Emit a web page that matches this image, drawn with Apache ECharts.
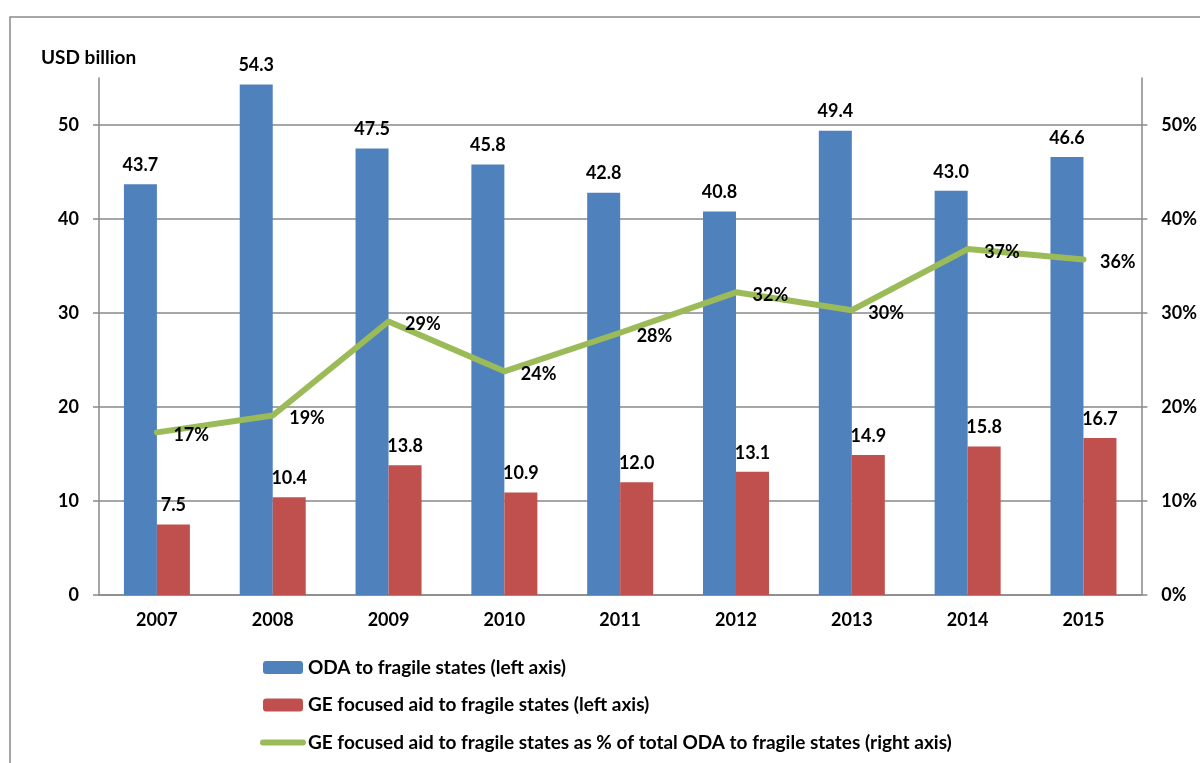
<!DOCTYPE html>
<html>
<head>
<meta charset="utf-8">
<script src="https://cdn.jsdelivr.net/npm/echarts@6/dist/echarts.min.js"></script>
<style>
html,body{margin:0;padding:0;background:#fff;}
#chart{width:1200px;height:763px;}
</style>
</head>
<body>
<div id="chart"></div>
<script>
const years = ['2007','2008','2009','2010','2011','2012','2013','2014','2015'];
const odaValues = [43.7, 54.3, 47.5, 45.8, 42.8, 40.8, 49.4, 43.0, 46.6];
const geValues = [7.5, 10.4, 13.8, 10.9, 12.0, 13.1, 14.9, 15.8, 16.7];
const sharePct = [17.3, 19.1, 29.1, 23.8, 27.9, 32.2, 30.3, 36.8, 35.7];
const leftTicks = [0, 10, 20, 30, 40, 50];
const rightTicks = [0, 10, 20, 30, 40, 50];
const seriesNames = [
  'ODA to fragile states (left axis)',
  'GE focused aid to fragile states (left axis)',
  'GE focused aid to fragile states as % of total ODA to fragile states (right axis)'
];

const FONT = 'Lato';
const AX = '#898989';
const GREEN = '#9BBB59';
const chart = echarts.init(document.getElementById('chart'));
const labelStyle = {fontFamily: FONT, fontWeight: 'bold', fontSize: 18, color: '#000'};

chart.setOption({
  backgroundColor: '#fff',
  animation: false,
  textStyle: {fontFamily: FONT},
  graphic: [{
    type: 'rect',
    shape: {x: 10, y: 17, width: 1400, height: 1000},
    style: {fill: 'none', stroke: AX, lineWidth: 1.5},
    silent: true,
    z: -1
  }],
  title: {
    text: 'USD billion',
    left: 36, top: 43,
    textStyle: {fontFamily: FONT, fontWeight: 'bold', fontSize: 19, color: '#000'}
  },
  legend: {
    orient: 'vertical',
    left: 260, top: 658,
    height: 110,
    padding: 0,
    itemWidth: 40, itemHeight: 13,
    itemGap: 18.5,
    textStyle: {fontFamily: FONT, fontWeight: 'bold', fontSize: 19, color: '#000'},
    data: [
      {name: seriesNames[0]},
      {name: seriesNames[1]},
      {name: seriesNames[2], itemStyle: {opacity: 0},
        lineStyle: {width: 6, color: GREEN, cap: 'round'}}
    ]
  },
  grid: {left: 99, right: 58, top: 78, bottom: 168, containLabel: false},
  xAxis: {
    type: 'category',
    data: years,
    axisLine: {lineStyle: {color: AX, width: 1.5}},
    axisTick: {length: 6, lineStyle: {color: AX, width: 1.5}},
    axisLabel: {...labelStyle, margin: 16}
  },
  yAxis: [{
    type: 'value',
    min: 0, max: 55, interval: 10,
    axisLine: {show: true, lineStyle: {color: AX, width: 1.5}},
    axisTick: {show: true, length: 6, customValues: leftTicks, lineStyle: {color: AX, width: 1.5}},
    axisLabel: {...labelStyle, margin: 20, customValues: leftTicks},
    splitLine: {show: true, lineStyle: {color: AX, width: 1.5}}
  }, {
    type: 'value',
    min: 0, max: 55, interval: 10,
    position: 'right',
    axisLine: {show: true, lineStyle: {color: AX, width: 1.5}},
    axisTick: {show: true, length: 6, customValues: rightTicks, lineStyle: {color: AX, width: 1.5}},
    axisLabel: {...labelStyle, margin: 20, customValues: rightTicks,
      formatter: v => v + '%'},
    splitLine: {show: false}
  }],
  series: [{
    name: seriesNames[0],
    type: 'bar',
    data: odaValues,
    barWidth: 33,
    barGap: '0%',
    itemStyle: {color: '#4F81BD'},
    label: {show: true, position: 'top', distance: 10, ...labelStyle,
      formatter: p => p.value.toFixed(1)},
    z: 2
  }, {
    name: seriesNames[1],
    type: 'bar',
    data: geValues,
    barWidth: 33,
    barGap: '0%',
    itemStyle: {color: '#C0504D'},
    label: {show: true, position: 'top', distance: 10, ...labelStyle,
      formatter: p => p.value.toFixed(1)},
    z: 2
  }, {
    name: seriesNames[2],
    type: 'line',
    yAxisIndex: 1,
    data: sharePct,
    symbol: 'circle',
    symbolSize: 1,
    showSymbol: true,
    lineStyle: {color: GREEN, width: 6, cap: 'round', join: 'round'},
    itemStyle: {color: GREEN},
    label: {show: true, position: 'right', distance: 16, offset: [0, 3], ...labelStyle,
      formatter: p => Math.round(p.value) + '%'},
    z: 3
  }]
});
</script>
</body>
</html>
